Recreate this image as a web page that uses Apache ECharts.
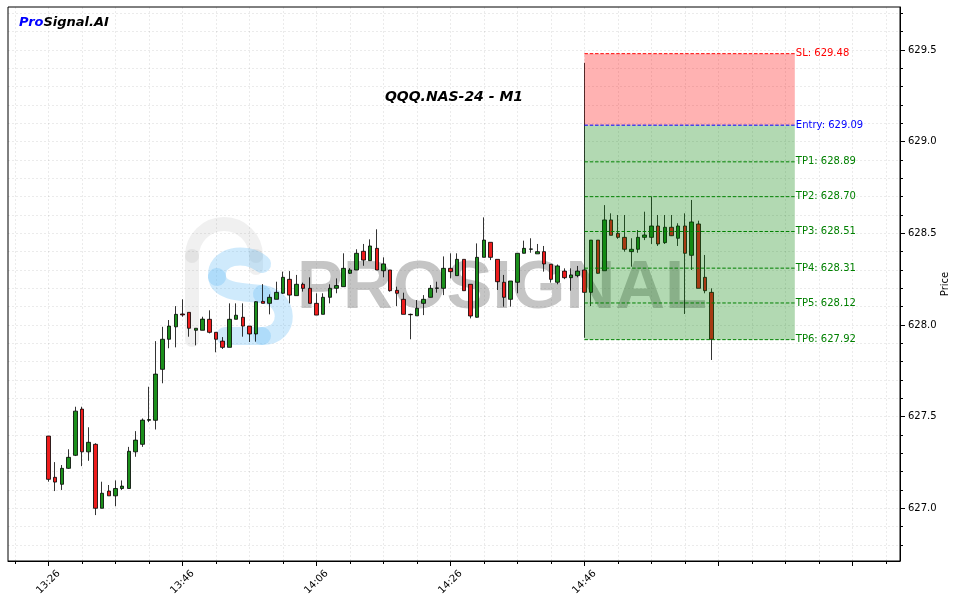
<!DOCTYPE html>
<html><head><meta charset="utf-8">
<script src="https://cdn.jsdelivr.net/npm/echarts@6/dist/echarts.min.js"></script>
<style>html,body{margin:0;padding:0;background:#fff}#c{width:956px;height:603px}</style>
</head><body><div id="c"></div>
<script>
const times = ['13:26','13:27','13:28','13:29','13:30','13:31','13:32','13:33','13:34','13:35',
'13:36','13:37','13:38','13:39','13:40','13:41','13:42','13:43','13:44','13:45',
'13:46','13:47','13:48','13:49','13:50','13:51','13:52','13:53','13:54','13:55',
'13:56','13:57','13:58','13:59','14:00','14:01','14:02','14:03','14:04','14:05',
'14:06','14:07','14:08','14:09','14:10','14:11','14:12','14:13','14:14','14:15',
'14:16','14:17','14:18','14:19','14:20','14:21','14:22','14:23','14:24','14:25',
'14:26','14:27','14:28','14:29','14:30','14:31','14:32','14:33','14:34','14:35',
'14:36','14:37','14:38','14:39','14:40','14:41','14:42','14:43','14:44','14:45',
'14:46','14:47','14:48','14:49','14:50','14:51','14:52','14:53','14:54','14:55',
'14:56','14:57','14:58','14:59','15:00','15:01','15:02','15:03','15:04','15:05'];
const opens = [627.394,627.169,627.131,627.218,627.289,627.541,627.308,627.349,627.000,627.094,
627.068,627.108,627.108,627.308,627.349,627.480,627.480,627.758,627.922,627.990,
628.060,628.069,627.971,627.971,628.031,627.960,627.912,627.878,628.031,628.042,
627.994,627.951,628.129,628.118,628.140,628.173,628.249,628.160,628.222,628.200,
628.118,628.058,628.151,628.200,628.209,628.282,628.300,628.402,628.351,628.418,
628.296,628.300,628.189,628.140,628.058,628.050,628.118,628.151,628.200,628.200,
628.309,628.269,628.358,628.222,628.042,628.369,628.451,628.358,628.233,628.140,
628.233,628.391,628.413,628.388,628.400,628.331,628.233,628.294,628.258,628.269,
628.300,628.178,628.463,628.296,628.573,628.500,628.478,628.400,628.413,628.478,
628.478,628.540,628.449,628.533,628.473,628.540,628.380,628.551,628.260,628.178];
const highs = [627.394,627.252,627.236,627.322,627.554,627.554,627.442,627.355,627.145,627.127,
627.152,627.152,627.335,627.421,627.490,627.663,627.912,627.990,628.027,628.103,
628.140,628.069,627.982,628.045,628.080,627.960,627.934,628.118,628.118,628.118,
627.994,628.130,628.223,628.167,628.236,628.291,628.294,628.273,628.231,628.260,
628.173,628.173,628.222,628.254,628.391,628.310,628.413,628.442,628.467,628.522,
628.369,628.300,628.209,628.176,628.062,628.136,628.163,628.218,628.236,628.374,
628.391,628.391,628.358,628.222,628.445,628.587,628.451,628.358,628.273,628.240,
628.391,628.460,628.473,628.442,628.431,628.331,628.330,628.309,628.309,628.322,
629.430,628.463,628.463,628.654,628.609,628.600,628.600,628.473,628.518,628.618,
628.700,628.600,628.600,628.600,628.555,628.609,628.682,628.569,628.382,628.200];
const lows = [627.145,627.094,627.100,627.215,627.285,627.230,627.259,626.963,627.000,627.068,
627.011,627.100,627.108,627.281,627.335,627.470,627.430,627.682,627.873,627.878,
628.045,627.936,627.889,627.971,627.954,627.851,627.869,627.878,628.031,627.936,
627.907,627.909,628.118,628.058,628.140,628.170,628.118,628.160,628.182,628.118,
628.054,628.058,628.118,628.173,628.209,628.278,628.300,628.323,628.350,628.300,
628.260,628.182,628.103,628.058,627.922,628.050,628.054,628.150,628.176,628.163,
628.254,628.269,628.187,628.036,628.040,628.369,628.354,628.191,628.100,628.100,
628.173,628.390,628.394,628.388,628.291,628.231,628.222,628.250,628.187,628.260,
627.930,628.103,628.280,628.296,628.489,628.470,628.400,628.318,628.394,628.463,
628.442,628.431,628.442,628.485,628.431,628.060,628.300,628.200,628.173,627.809];
const closes = [627.158,627.143,627.218,627.278,627.530,627.308,627.360,627.000,627.082,627.068,
627.108,627.121,627.311,627.372,627.481,627.484,627.732,627.922,627.994,628.058,
628.055,627.982,627.982,628.032,627.960,627.922,627.878,628.031,628.053,627.994,
627.951,628.127,628.118,628.151,628.178,628.260,628.163,628.222,628.200,628.118,
628.054,628.151,628.200,628.215,628.309,628.300,628.391,628.354,628.431,628.300,
628.333,628.187,628.173,628.058,628.056,628.091,628.140,628.200,628.202,628.309,
628.291,628.358,628.187,628.049,628.369,628.463,628.369,628.236,628.151,628.240,
628.391,628.418,628.415,628.400,628.333,628.249,628.322,628.258,628.273,628.294,
628.178,628.463,628.282,628.573,628.489,628.478,628.413,628.413,628.478,628.491,
628.540,628.442,628.533,628.487,628.540,628.391,628.562,628.200,628.187,627.922];

const levelNames = ['SL','Entry','TP1','TP2','TP3','TP4','TP5','TP6'];
const levelValues = [629.48, 629.09, 628.89, 628.70, 628.51, 628.31, 628.12, 627.92];
const zoneStart = '14:46';
const zoneLengthMin = 31.4;
const xLabelTimes = ['13:26','13:46','14:06','14:26','14:46'];
const xMajorTimes = ['13:26','13:46','14:06','14:26','14:46','15:06','15:26'];
const yTickLabels = [627.0, 627.5, 628.0, 628.5, 629.0, 629.5];

const FONT = 'DejaVu Sans';
function toMin(s){ const p = s.split(':'); return (+p[0])*60 + (+p[1]); }
function fmt(v){ const m = Math.round(v); const h = Math.floor(m/60), mm = m%60; return h + ':' + (mm<10?'0':'') + mm; }

const xMin = 799.96, xMax = 933.1, yMin = 626.7125, yMax = 629.7346;
const minorX = []; for (let m = 801; m <= 933; m += 5) minorX.push(m);
const minorY = []; for (let k = 6268; k <= 6297; k++) minorY.push(k/10);

const candleData = times.map((t,i)=>[toMin(t), opens[i], closes[i], lows[i], highs[i]]);
const zs = toMin(zoneStart), ze = zs + zoneLengthMin;
const zoneData = [[zs, ze, levelValues[1], levelValues[0], 0], [zs, ze, levelValues[7], levelValues[1], 1]];
const zoneColors = ['rgba(255,0,0,0.3)', 'rgba(0,128,0,0.3)'];
const levelData = levelValues.map((v,i)=>[zs, ze, v, i]);
const levelLineColor = i => i===0 ? '#ff0000' : (i===1 ? '#0000ff' : '#008000');
const levelTextColor = i => i===0 ? '#ff0000' : (i===1 ? '#0000ff' : '#008000');

const gridLine = {show:true, lineStyle:{color:'rgba(0,0,0,0.08)', type:[2,2], width:1}};
const wmGray = {fill:'none', stroke:'rgba(150,150,150,0.14)', lineWidth:14, lineCap:'round'};
const wmBlue = {fill:'none', stroke:'rgba(110,190,245,0.33)', lineWidth:18, lineCap:'round'};

const chart = echarts.init(document.getElementById('c'), null, {renderer:'canvas'});
chart.setOption({
  animation:false,
  backgroundColor:'#fff',
  title:{
    text:'{a|Pro}{b|Signal.AI}', left:14, top:11,
    textStyle:{rich:{
      a:{color:'#0000ff', fontWeight:'bold', fontStyle:'italic', fontSize:13, fontFamily:FONT},
      b:{color:'#000', fontWeight:'bold', fontStyle:'italic', fontSize:13, fontFamily:FONT}
    }},
    z:20
  },
  grid:{left:8, right:56, top:7, bottom:42, show:true, borderColor:'#000', borderWidth:1, backgroundColor:'transparent',
        containLabel:false, outerBoundsMode:'none'},
  xAxis:[
    {type:'value', min:xMin, max:xMax, position:'bottom',
     axisLine:{show:true, onZero:false, lineStyle:{color:'#000', width:1}},
     axisTick:{show:true, customValues:xMajorTimes.map(toMin), length:5, lineStyle:{color:'#000'}},
     axisLabel:{show:true, customValues:xLabelTimes.map(toMin), rotate:45, align:'center', verticalAlign:'middle', margin:21,
       formatter:fmt, fontSize:10, color:'#000', fontFamily:FONT},
     splitLine:{show:false}},
    {type:'value', min:xMin, max:xMax, position:'bottom',
     axisLine:{show:false}, axisTick:{show:true, customValues:minorX, length:3, lineStyle:{color:'#000'}},
     axisLabel:{show:false}, splitLine:gridLine}
  ],
  yAxis:[
    {type:'value', min:yMin, max:yMax, position:'right',
     name:'Price', nameLocation:'middle', nameRotate:90, nameGap:40, nameMoveOverlap:false,
     nameTextStyle:{fontSize:10, color:'#000', fontFamily:FONT},
     axisLine:{show:true, onZero:false, lineStyle:{color:'#000', width:1}},
     axisTick:{show:true, customValues:yTickLabels, length:5, lineStyle:{color:'#000'}},
     axisLabel:{show:true, customValues:yTickLabels, formatter:v=>Number(v).toFixed(1), fontSize:10, color:'#000', fontFamily:FONT, margin:8},
     splitLine:{show:false}},
    {type:'value', min:yMin, max:yMax, position:'right',
     axisLine:{show:false}, axisTick:{show:true, customValues:minorY, length:3, lineStyle:{color:'#000'}},
     axisLabel:{show:false}, splitLine:gridLine}
  ],
  graphic:[
    {type:'line', z:1, shape:{x1:192, y1:340, x2:192, y2:256}, style:wmGray},
    {type:'arc', z:1, shape:{cx:224, cy:256, r:32, startAngle:Math.PI, endAngle:2*Math.PI, clockwise:true}, style:wmGray},
    {type:'line', z:1, shape:{x1:256, y1:256, x2:256, y2:268}, style:wmGray},
    {type:'bezierCurve', z:1, shape:{x1:262, y1:264, cpx1:245, cpy1:250, cpx2:215, cpy2:256, x2:217, y2:277}, style:wmBlue},
    {type:'bezierCurve', z:1, shape:{x1:217, y1:277, cpx1:219, cpy1:293, cpx2:245, cpy2:292, x2:262, y2:294}, style:wmBlue},
    {type:'bezierCurve', z:1, shape:{x1:262, y1:294, cpx1:290, cpy1:297, cpx2:292, cpy2:336, x2:262, y2:336}, style:wmBlue},
    {type:'line', z:1, shape:{x1:262, y1:336, x2:225, y2:336}, style:wmBlue},
    {type:'text', z:1, style:{text:'PROSIGNAL', x:297, y:289, font:'bold 69px "Liberation Sans"', fill:'rgba(110,110,110,0.4)', textVerticalAlign:'middle'}},
    {type:'text', z:20, style:{text:'QQQ.NAS-24 - M1', x:454, y:97, textAlign:'center', textVerticalAlign:'middle', font:'italic bold 14px "DejaVu Sans"', fill:'#000'}}
  ],
  series:[
    {type:'candlestick', xAxisIndex:0, yAxisIndex:0, z:2, barWidth:4,
     data:candleData, encode:{x:0, y:[1,2,3,4]},
     itemStyle:{color:'#1b8f1b', color0:'#ee1c1c', borderColor:'#000', borderColor0:'#000', borderColorDoji:'#000', borderWidth:0.8}},
    {type:'custom', xAxisIndex:0, yAxisIndex:0, z:3, data:zoneData, encode:{x:[0,1], y:[2,3]},
     renderItem:(params, api)=>{
       const p0 = api.coord([api.value(0), api.value(3)]);
       const p1 = api.coord([api.value(1), api.value(2)]);
       return {type:'rect', shape:{x:p0[0], y:p0[1], width:p1[0]-p0[0], height:p1[1]-p0[1]},
               style:{fill:zoneColors[api.value(4)]}};
     }},
    {type:'custom', xAxisIndex:0, yAxisIndex:0, z:4, data:levelData, encode:{x:[0,1], y:2},
     renderItem:(params, api)=>{
       const i = api.value(3);
       const a = api.coord([api.value(0), api.value(2)]);
       const b = api.coord([api.value(1), api.value(2)]);
       return {type:'group', children:[
         {type:'line', shape:{x1:a[0], y1:a[1], x2:b[0], y2:b[1]},
          style:{stroke:levelLineColor(i), lineWidth:1, lineDash:[3.5,1.8]}},
         {type:'text', style:{text:levelNames[i] + ': ' + levelValues[i].toFixed(2), x:b[0]+1, y:b[1],
          fill:levelTextColor(i), font:'10px "DejaVu Sans"', textAlign:'left', textVerticalAlign:'middle'}}
       ]};
     }}
  ]
});
</script>
</body></html>
